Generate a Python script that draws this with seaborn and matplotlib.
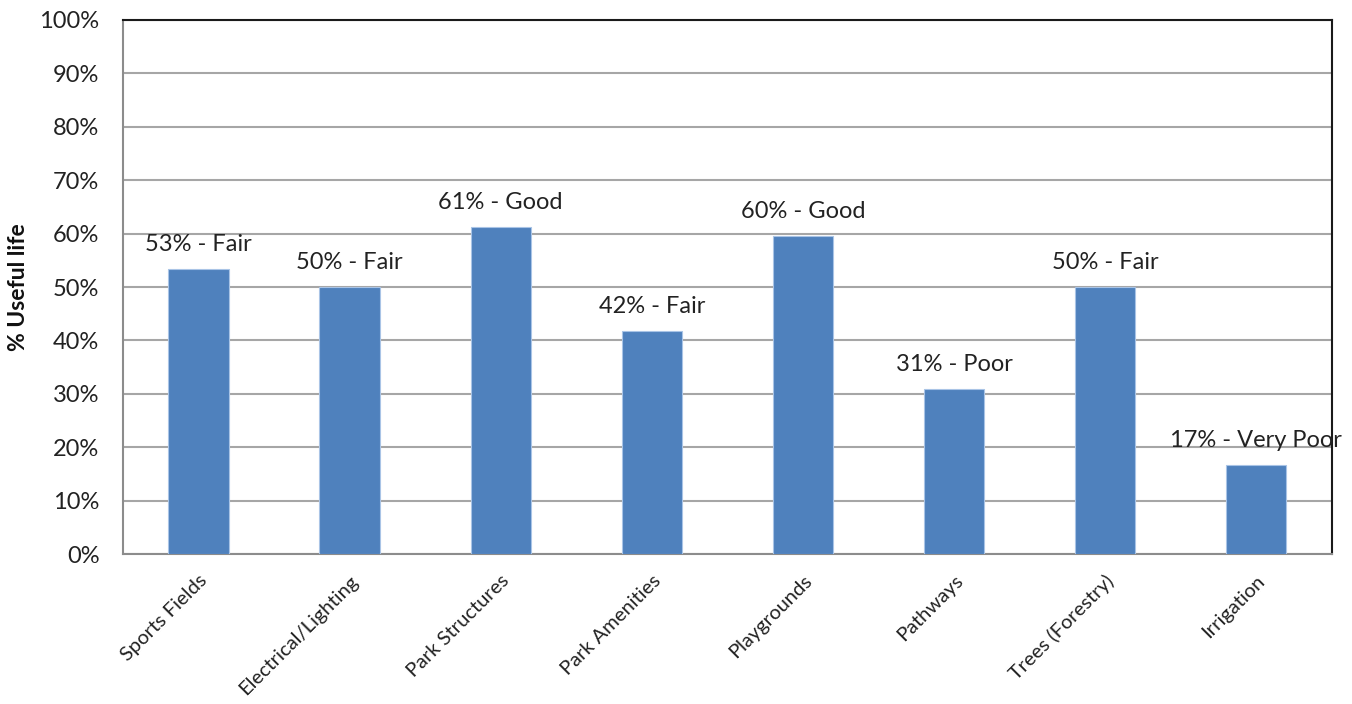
import matplotlib
matplotlib.use("Agg")
import matplotlib.pyplot as plt
import seaborn as sns
import pandas as pd
from matplotlib.ticker import FuncFormatter, MultipleLocator

categories = ["Sports Fields", "Electrical/Lighting", "Park Structures", "Park Amenities",
              "Playgrounds", "Pathways", "Trees (Forestry)", "Irrigation"]
useful_life = [53.4, 50.0, 61.2, 41.7, 59.6, 30.9, 50.0, 16.7]
ratings = ["Fair", "Fair", "Good", "Fair", "Good", "Poor", "Fair", "Very Poor"]

df = pd.DataFrame({"category": categories, "value": useful_life, "rating": ratings})

sns.set_theme(style="white")
plt.rcParams["font.family"] = ["Lato", "DejaVu Sans"]

fig = plt.figure(figsize=(13.52, 7.04), dpi=100)
ax = fig.add_axes([0.091, 0.213, 0.894, 0.7586])

sns.barplot(data=df, x="category", y="value", color="#4F81BD", saturation=1,
            width=0.4, ax=ax, zorder=3)
for p in ax.patches:
    p.set_edgecolor("#A9C4E6")
    p.set_linewidth(0.8)

ax.set_ylim(0, 100)
ax.set_xlim(-0.5, len(categories) - 0.5)
ax.yaxis.set_major_locator(MultipleLocator(10))
ax.yaxis.set_major_formatter(FuncFormatter(lambda v, _: f"{v:.0f}%"))
ax.grid(axis="y", color="#A6A6A6", linewidth=1.5, zorder=0)
ax.set_axisbelow(True)

for side in ["left", "bottom"]:
    ax.spines[side].set_color("#8C8C8C")
    ax.spines[side].set_linewidth(1.5)
for side in ["top", "right"]:
    ax.spines[side].set_color("#1A1A1A")
    ax.spines[side].set_linewidth(1.5)

ax.tick_params(axis="y", labelsize=17, colors="#222222", length=0, pad=17)
ax.tick_params(axis="x", labelsize=14.5, colors="#222222", length=0, pad=13)
plt.setp(ax.get_xticklabels(), rotation=45, ha="right", rotation_mode="anchor")

ax.set_xlabel("")
ax.set_ylabel("% Useful life", fontsize=16.5, fontweight="bold", color="#111111")
ax.yaxis.set_label_coords(-0.078, 0.5)

for i, (v, r) in enumerate(zip(useful_life, ratings)):
    ax.annotate(f"{v:.0f}% - {r}", xy=(i, v), xytext=(0, 13), textcoords="offset points",
                ha="center", va="baseline", fontsize=17, color="#222222",
                annotation_clip=False, zorder=4)

fig.savefig("out.png", dpi=100)
